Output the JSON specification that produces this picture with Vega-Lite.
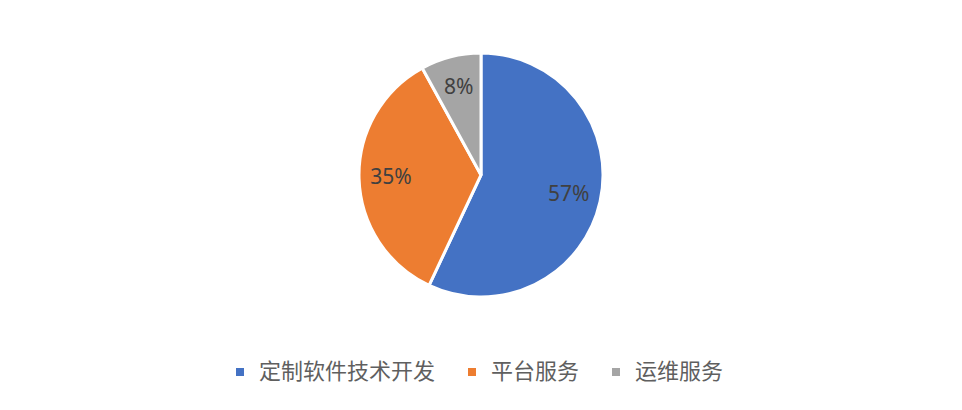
{
  "$schema": "https://vega.github.io/schema/vega-lite/v6.json",
  "width": 962,
  "height": 350,
  "autosize": {"type": "none"},
  "padding": {"left": 0, "top": 0, "right": 0, "bottom": 60},
  "background": "white",
  "data": {
    "values": [
      {"category": "定制软件技术开发", "share": 57, "label": "57%", "rank": 1},
      {"category": "平台服务", "share": 35, "label": "35%", "rank": 2},
      {"category": "运维服务", "share": 8, "label": "8%", "rank": 3}
    ]
  },
  "encoding": {
    "theta": {"field": "share", "type": "quantitative", "stack": true},
    "order": {"field": "rank", "type": "quantitative"},
    "color": {
      "field": "category",
      "type": "nominal",
      "scale": {
        "domain": ["定制软件技术开发", "平台服务", "运维服务"],
        "range": ["#4472C4", "#ED7D31", "#A5A5A5"]
      },
      "legend": {
        "orient": "none",
        "direction": "horizontal",
        "legendX": 229,
        "legendY": 361,
        "title": null,
        "symbolType": "square",
        "symbolSize": 64,
        "symbolStrokeWidth": 0,
        "labelFont": "Noto Sans CJK SC",
        "labelFontSize": 22,
        "labelColor": "#5f5f5f",
        "labelOffset": 8,
        "labelLimit": 400,
        "columnPadding": 25,
        "padding": 0
      }
    }
  },
  "layer": [
    {"mark": {"type": "arc", "outerRadius": 122, "stroke": "white", "strokeWidth": 3}},
    {
      "mark": {"type": "text", "radius": 90, "font": "Noto Sans", "fontSize": 21},
      "encoding": {
        "text": {"field": "label", "type": "nominal"},
        "color": {"value": "#404040"}
      }
    }
  ],
  "config": {"view": {"stroke": null}}
}
